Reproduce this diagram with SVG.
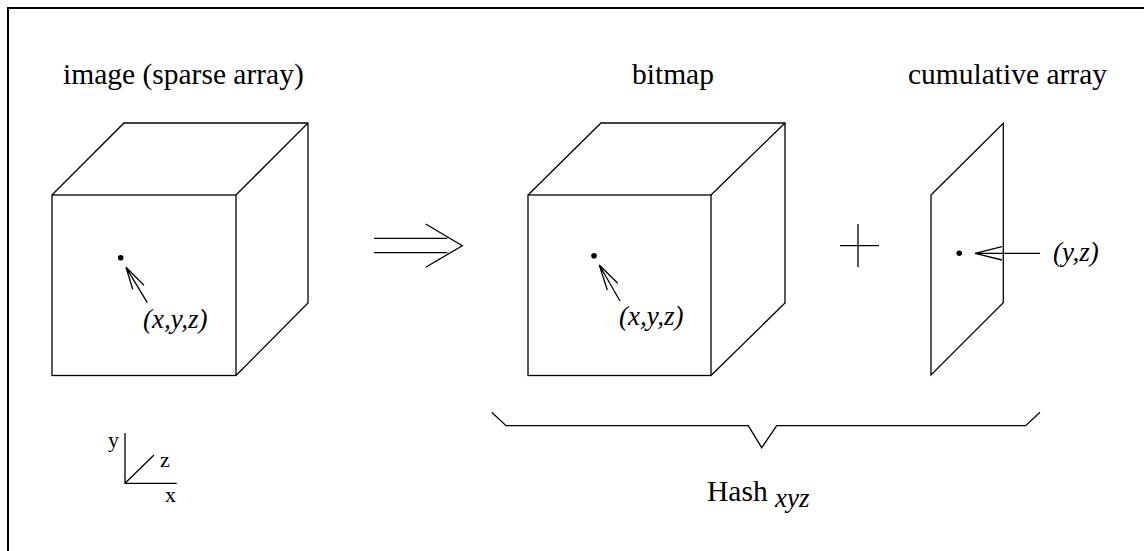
<svg xmlns="http://www.w3.org/2000/svg" width="1144" height="551" viewBox="0 0 1144 551">
  <style>
    .ln { fill: none; stroke: #000; stroke-width: 1.3; stroke-linejoin: miter; }
    .frame { fill: none; stroke: #000; stroke-width: 2; }
    .lbl { font-family: "Liberation Serif", "Times New Roman", serif; font-size: 29.5px; fill: #000; }
    .it { font-family: "Liberation Serif", "Times New Roman", serif; font-style: italic; font-size: 27px; fill: #000; }
    .ax { font-family: "Liberation Serif", "Times New Roman", serif; font-size: 22px; fill: #000; }
  </style>
  <rect width="1144" height="551" fill="#fff"/>
  <path class="frame" d="M8,551 V8 H1144"/>

  <!-- source volume -->
  <g id="image-cube">
    <text class="lbl" x="63" y="84">image (sparse array)</text>
    <rect class="ln" x="52" y="195" width="184" height="180.5"/>
    <path class="ln" d="M52,195 L124,123 H308 V303 L236,375.5 M236,195 L308,123"/>
    <circle cx="120.7" cy="257.7" r="2.8"/>
    <path class="ln" d="M147.3,302.7 L126,267.3 M132.7,289.3 L126,267.3 L144,285.3"/>
    <text class="it" x="143" y="328">(x,y,z)</text>
  </g>

  <!-- axis legend -->
  <g id="axes">
    <path class="ln" d="M125,433 V483.3 H176.7 M125,483.3 L154,455"/>
    <text class="ax" x="108" y="447">y</text>
    <text class="ax" x="160" y="467">z</text>
    <text class="ax" x="165" y="502">x</text>
  </g>

  <!-- transform arrow and plus sign -->
  <g id="connectors">
    <path class="ln" d="M374,238.3 H447.3 M374,252.7 H447.3 M425.7,224 L462.3,245.7 L425.7,267.3"/>
    <path class="ln" d="M840,245.7 H879 M858,224 V267"/>
  </g>

  <!-- bitmap volume -->
  <g id="bitmap-cube">
    <text class="lbl" x="632" y="84">bitmap</text>
    <rect class="ln" x="528" y="195" width="183" height="180.5"/>
    <path class="ln" d="M528,195 L601,123 H785 V303 L711,375.5 M711,195 L785,123"/>
    <circle cx="594" cy="255.7" r="2.8"/>
    <path class="ln" d="M620,301 L599.3,265 M607.3,290 L599.3,265 L617.7,283.3"/>
    <text class="it" x="619" y="325">(x,y,z)</text>
  </g>

  <!-- cumulative plane -->
  <g id="cumulative-plane">
    <text class="lbl" x="908" y="84">cumulative array</text>
    <path class="ln" d="M931,195 L1003.3,123.3 V302.7 L931,375 Z"/>
    <circle cx="959.3" cy="253.3" r="2.8"/>
    <path class="ln" d="M1040,253.3 H975 M1002,246.7 L975,253.3 L1002,260"/>
    <text class="it" x="1053" y="261">(y,z)</text>
  </g>

  <!-- grouping brace -->
  <g id="hash-brace">
    <path class="ln" d="M491.7,412.3 L506,425.7 H748.3 L761.7,447.7 L776.7,425.7 H1025.7 L1040,412.3"/>
    <text class="lbl" x="707" y="501">Hash <tspan class="it" dy="6" font-size="28">xyz</tspan></text>
  </g>
</svg>
